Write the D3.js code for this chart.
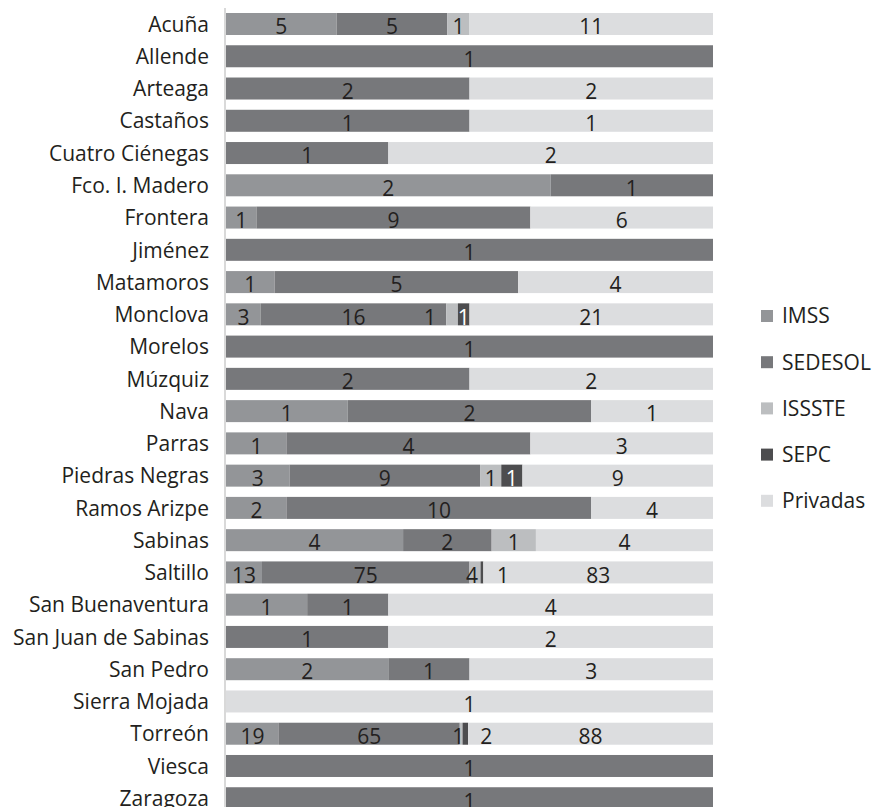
<!DOCTYPE html>
<html>
<head>
<meta charset="utf-8">
<script src="https://cdn.jsdelivr.net/npm/d3@7"></script>
<style>
  html, body { margin: 0; padding: 0; background: #ffffff; }
  svg { display: block; }
  text { font-family: "Open Sans", "Noto Sans", sans-serif; fill: #231f20; }
</style>
</head>
<body>
<svg id="chart" width="874" height="807"></svg>
<script>
// Establecimientos de salud por municipio e institución (Coahuila)
const categories = [
  "Acuña", "Allende", "Arteaga", "Castaños", "Cuatro Ciénegas",
  "Fco. I. Madero", "Frontera", "Jiménez", "Matamoros", "Monclova",
  "Morelos", "Múzquiz", "Nava", "Parras", "Piedras Negras",
  "Ramos Arizpe", "Sabinas", "Saltillo", "San Buenaventura", "San Juan de Sabinas",
  "San Pedro", "Sierra Mojada", "Torreón", "Viesca", "Zaragoza"
];
const seriesNames = ["IMSS", "SEDESOL", "ISSSTE", "SEPC", "Privadas"];
const IMSS     = [5, 0, 0, 0, 0, 2, 1, 0, 1, 3, 0, 0, 1, 1, 3, 2, 4, 13, 1, 0, 2, 0, 19, 0, 0];
const SEDESOL  = [5, 1, 2, 1, 1, 1, 9, 1, 5, 16, 1, 2, 2, 4, 9, 10, 2, 75, 1, 1, 1, 0, 65, 1, 1];
const ISSSTE   = [1, 0, 0, 0, 0, 0, 0, 0, 0, 1, 0, 0, 0, 0, 1, 0, 1, 4, 0, 0, 0, 0, 1, 0, 0];
const SEPC     = [0, 0, 0, 0, 0, 0, 0, 0, 0, 1, 0, 0, 0, 0, 1, 0, 0, 1, 0, 0, 0, 0, 2, 0, 0];
const Privadas = [11, 0, 2, 1, 2, 0, 6, 0, 4, 21, 0, 2, 1, 3, 9, 4, 4, 83, 4, 2, 3, 1, 88, 0, 0];

const seriesValues = { IMSS, SEDESOL, ISSSTE, SEPC, Privadas };
const colors = {
  IMSS: "#939598", SEDESOL: "#77787b", ISSSTE: "#bcbec0", SEPC: "#4d4d4f", Privadas: "#dcdddf"
};
const labelColors = { SEPC: "#ffffff" };
// horizontal nudges for labels of very thin segments (moved labels use dark text)
const labelNudge = {
  "Monclova|ISSSTE": -22, "Saltillo|ISSSTE": -3, "Saltillo|SEPC": 21,
  "Torreón|ISSSTE": -3, "Torreón|SEPC": 21
};

const FONT = 21;
const svg = d3.select("#chart");

const rows = categories.map((c, i) => {
  const r = { category: c };
  seriesNames.forEach(s => r[s] = seriesValues[s][i]);
  return r;
});

const stacked = d3.stack().keys(seriesNames).offset(d3.stackOffsetExpand)(rows);

const x = d3.scaleLinear().domain([0, 1]).range([226, 713]);
const y = d3.scaleBand().domain(categories).range([2.74, 819.5]).padding(0.318);

// vertical axis line
svg.append("line")
  .attr("x1", 225).attr("x2", 225)
  .attr("y1", 8).attr("y2", 807)
  .attr("stroke", "#d9d9d9").attr("stroke-width", 2);

// stacked segments
const layers = svg.append("g").selectAll("g")
  .data(stacked).join("g")
  .attr("fill", d => colors[d.key]);

layers.selectAll("rect")
  .data(d => d.map(p => ({ key: d.key, p })))
  .join("rect")
  .attr("x", d => x(d.p[0]))
  .attr("y", d => y(d.p.data.category))
  .attr("width", d => Math.max(0, x(d.p[1]) - x(d.p[0])))
  .attr("height", y.bandwidth());

// value labels
const labels = [];
stacked.forEach(layer => {
  layer.forEach(p => {
    const v = p.data[layer.key];
    if (v > 0) labels.push({ key: layer.key, p, v, nudge: labelNudge[p.data.category + "|" + layer.key] || 0 });
  });
});
svg.append("g").selectAll("text")
  .data(labels).join("text")
  .attr("x", d => (x(d.p[0]) + x(d.p[1])) / 2 + d.nudge)
  .attr("y", d => y(d.p.data.category) + 21.3)
  .attr("text-anchor", "middle")
  .style("font-size", FONT + "px")
  .style("fill", d => (Math.abs(d.nudge) > 10 ? "#231f20" : (labelColors[d.key] || "#231f20")))
  .text(d => d.v);

// category axis labels
const yAxis = d3.axisLeft(y).tickSize(0).tickPadding(0);
const ag = svg.append("g").attr("transform", "translate(209,0)").call(yAxis);
ag.select(".domain").remove();
ag.selectAll("text")
  .attr("dy", null)
  .attr("y", 7.7)
  .style("font-size", FONT + "px")
  .style("font-family", "'Open Sans', 'Noto Sans', sans-serif")
  .style("fill", "#231f20");

// legend
const legend = svg.append("g").attr("transform", "translate(761,310)");
const li = legend.selectAll("g").data(seriesNames).join("g")
  .attr("transform", (d, i) => `translate(0,${i * 46.2})`);
li.append("rect").attr("width", 12).attr("height", 12).attr("fill", d => colors[d]);
li.append("text")
  .attr("x", 21).attr("y", 13.3)
  .style("font-size", FONT + "px")
  .text(d => d);
</script>
</body>
</html>
